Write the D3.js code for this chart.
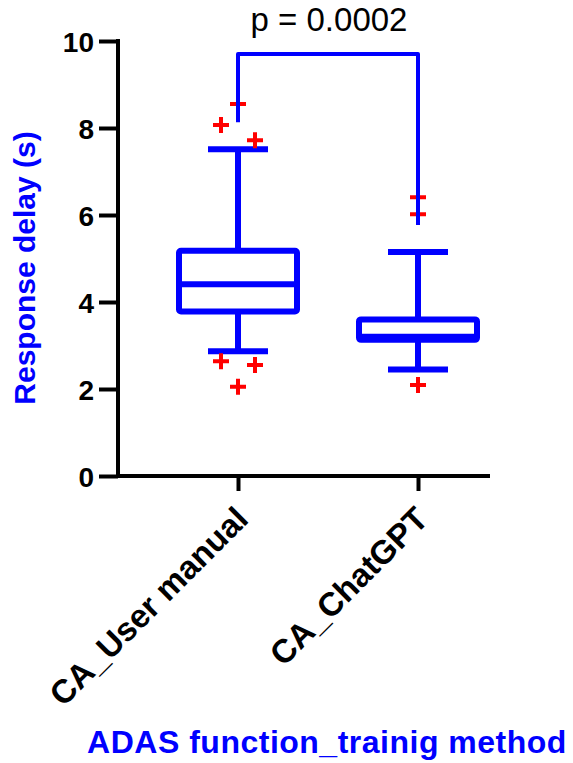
<!DOCTYPE html>
<html><head><meta charset="utf-8">
<script src="https://cdn.jsdelivr.net/npm/d3@7/dist/d3.min.js"></script>
<style>body{margin:0;background:#fff}svg{display:block}</style>
</head><body>
<svg id="c" width="573" height="763"></svg>
<script>
const categories = ["CA_User manual", "CA_ChatGPT"];
const whiskerLow = [2.87, 2.45];
const q1 = [3.78, 3.13];
const median = [4.41, 3.2];
const q3 = [5.18, 3.6];
const whiskerHigh = [7.51, 5.15];
const outliers = [
  [[0, 8.55], [-0.5, 8.07], [0.5, 7.72], [-0.5, 2.64], [0.5, 2.55], [0, 2.05]],
  [[0, 6.41], [0, 6.02], [0, 2.09]]
];
const yTicks = [0, 2, 4, 6, 8, 10];
const pText = "p = 0.0002";
const bracketY = 9.7;
const bracketEnds = [8.13, 5.77];
const yTitle = "Response delay (s)";
const xTitle = "ADAS function_trainig method";

const svg = d3.select("#c");
const blue = "#0000FF", red = "#FF0000";
const font = "'Liberation Sans', Arial, sans-serif";
const y = d3.scaleLinear().domain([0, 10]).range([476, 41]);
const x = d3.scalePoint().domain(categories).range([238, 418]);
const axisX = 118;

// axes
const yAxis = svg.append("g").attr("transform", `translate(${axisX},0)`)
  .call(d3.axisLeft(y).tickValues(yTicks).tickSize(19).tickPadding(5).tickFormat(d3.format("d")));
yAxis.select(".domain").remove();
yAxis.selectAll("line").attr("stroke", "#000").attr("stroke-width", 4);
yAxis.selectAll("text").attr("font-family", font).attr("font-weight", "bold").attr("font-size", 28).attr("fill", "#000").attr("dy", "0.36em");
svg.append("line").attr("x1", axisX).attr("x2", axisX).attr("y1", y(10) - 2).attr("y2", y(0) + 2).attr("stroke", "#000").attr("stroke-width", 4);

const xAxis = svg.append("g").attr("transform", `translate(0,${y(0)})`)
  .call(d3.axisBottom(x).tickSize(15).tickFormat(""));
xAxis.select(".domain").remove();
xAxis.selectAll("line").attr("stroke", "#000").attr("stroke-width", 4);
svg.append("line").attr("x1", axisX - 2).attr("x2", 490).attr("y1", y(0)).attr("y2", y(0)).attr("stroke", "#000").attr("stroke-width", 4);

categories.forEach((c, i) => {
  svg.append("text").attr("transform", `translate(${x(c) + 12},${y(0) + 45}) rotate(-45)`)
    .attr("text-anchor", "end").attr("font-family", font).attr("font-weight", "bold")
    .attr("font-size", 33).attr("fill", "#000").text(c);
});

// boxes
const bw = 118, cw = 60, lw = 6;
categories.forEach((c, i) => {
  const cx = x(c);
  const g = svg.append("g").attr("stroke", blue).attr("stroke-width", lw).attr("fill", "none");
  g.append("line").attr("x1", cx).attr("x2", cx).attr("y1", y(q3[i])).attr("y2", y(whiskerHigh[i]));
  g.append("line").attr("x1", cx).attr("x2", cx).attr("y1", y(q1[i])).attr("y2", y(whiskerLow[i]));
  g.append("line").attr("x1", cx - cw / 2).attr("x2", cx + cw / 2).attr("y1", y(whiskerHigh[i])).attr("y2", y(whiskerHigh[i]));
  g.append("line").attr("x1", cx - cw / 2).attr("x2", cx + cw / 2).attr("y1", y(whiskerLow[i])).attr("y2", y(whiskerLow[i]));
  g.append("rect").attr("x", cx - bw / 2).attr("width", bw).attr("y", y(q3[i])).attr("height", y(q1[i]) - y(q3[i])).attr("stroke-linejoin", "round").attr("rx", 2);
  g.append("line").attr("x1", cx - bw / 2).attr("x2", cx + bw / 2).attr("y1", y(median[i])).attr("y2", y(median[i]));
  outliers[i].forEach(([dx, v]) => {
    const px = cx + dx * 34, py = y(v), s = 8;
    svg.append("path").attr("d", `M${px - s},${py}H${px + s}M${px},${py - s}V${py + s}`)
      .attr("stroke", red).attr("stroke-width", 4).attr("fill", "none");
  });
});

// bracket
svg.append("path")
  .attr("d", `M${x(categories[0])},${y(bracketEnds[0])}V${y(bracketY)}H${x(categories[1])}V${y(bracketEnds[1])}`)
  .attr("stroke", blue).attr("stroke-width", 4).attr("fill", "none").attr("stroke-linejoin", "round");
svg.append("text").attr("x", 329).attr("y", 31)
  .attr("text-anchor", "middle").attr("font-family", font).attr("font-size", 33).attr("fill", "#000").text(pText);

// titles
svg.append("text").attr("transform", `translate(35,268) rotate(-90)`).attr("text-anchor", "middle")
  .attr("font-family", font).attr("font-weight", "bold").attr("font-size", 30).attr("fill", blue).text(yTitle);
svg.append("text").attr("x", 327).attr("y", 753).attr("text-anchor", "middle").attr("letter-spacing", 0.5)
  .attr("font-family", font).attr("font-weight", "bold").attr("font-size", 32).attr("fill", blue).text(xTitle);
</script>
</body></html>
